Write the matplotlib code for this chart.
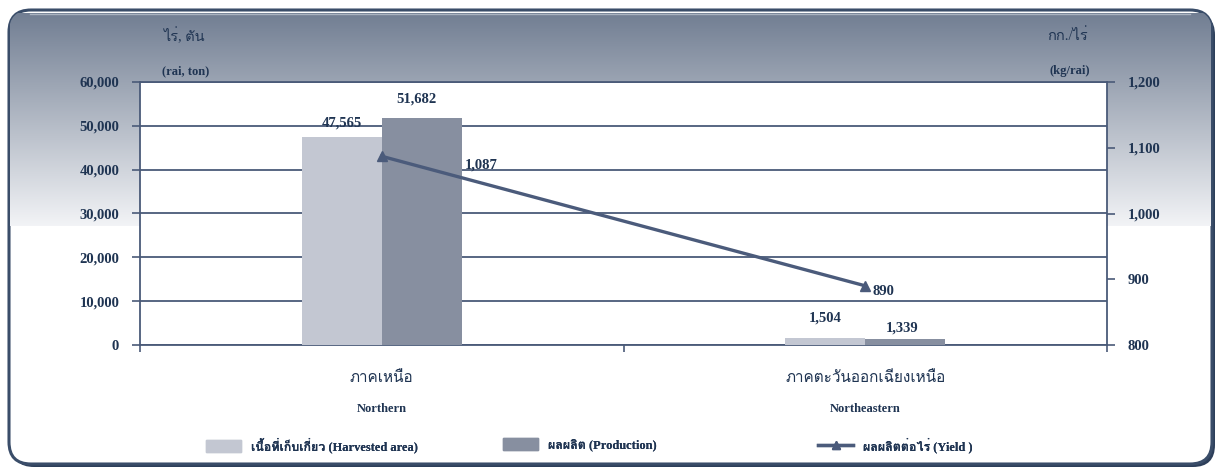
import numpy as np
import matplotlib
matplotlib.use("Agg")
import matplotlib.pyplot as plt
from matplotlib import font_manager, ft2font
from matplotlib.patches import FancyBboxPatch, Patch
from matplotlib.lines import Line2D

# data
regions_th = ["ภาคเหนือ", "ภาคตะวันออกเฉียงเหนือ"]
regions_en = ["Northern", "Northeastern"]
harvested = [47565, 1504]   # rai
production = [51682, 1339]  # ton
yield_kg = [1087, 890]      # kg/rai

left_ticks = [0, 10000, 20000, 30000, 40000, 50000, 60000]
right_ticks = [800, 900, 1000, 1100, 1200]


# look for a font that has Thai glyphs
def has_thai(path):
    try:
        return 0x0E01 in ft2font.FT2Font(path).get_charmap()
    except Exception:
        return False


thai = []
for f in font_manager.fontManager.ttflist:
    if f.name not in thai and has_thai(f.fname):
        thai.append(f.name)

FAM = ["Liberation Serif"] + thai[:1] + ["DejaVu Sans"]
plt.rcParams["font.family"] = FAM
plt.rcParams["font.weight"] = "bold"

NAVY = "#1f3452"
GRID = "#4a5a78"
C_HARV = "#c3c7d2"
C_PROD = "#878fa0"
C_LINE = "#4b5b7b"

W, H = 1223, 469
fig = plt.figure(figsize=(W / 100, H / 100), dpi=100)


def px(x, y):
    return x / W, 1 - y / H


# background frame with gradient header
bg = fig.add_axes([0, 0, 1, 1], zorder=0)
bg.set_xlim(0, W)
bg.set_ylim(H, 0)
bg.axis("off")
shadow = FancyBboxPatch((12, 13), 1203, 454, boxstyle="round,pad=0,rounding_size=22",
                        fc="#2d3f5a", ec="none")
bg.add_patch(shadow)
frame = FancyBboxPatch((9, 10), 1203, 454, boxstyle="round,pad=0,rounding_size=22",
                       fc="white", ec="#3a4d69", lw=2.2)
bg.add_patch(frame)
top = np.array([0.445, 0.495, 0.575])
bot = np.array([0.950, 0.955, 0.965])
t = np.linspace(0, 1, 200)[:, None, None]
grad = top + (bot - top) * t
im = bg.imshow(grad, extent=(10, 1211, 226, 13), aspect="auto", zorder=1)
im.set_clip_path(frame)
bg.plot([30, 1190], [14, 14], color="#a9b2c0", lw=1, zorder=2)

# main chart
ax = fig.add_axes([140 / W, 1 - 345 / H, 967 / W, 263 / H], zorder=2)
ax.set_facecolor("white")
x = np.arange(len(regions_th))
bw = 0.165
b1 = ax.bar(x - bw / 2, harvested, bw, color=C_HARV, zorder=3)
b2 = ax.bar(x + bw / 2, production, bw, color=C_PROD, zorder=3)
ax.set_xlim(-0.5, 1.5)
ax.set_ylim(0, 60000)
ax.set_yticks(left_ticks)
ax.set_yticklabels([f"{v:,}" for v in left_ticks])
ax.yaxis.grid(True, color=GRID, lw=1.3, zorder=1)
ax.set_axisbelow(True)
ax.set_xticks([-0.5, 0.5, 1.5])
ax.set_xticklabels([])
for s in ax.spines.values():
    s.set_color(GRID)
    s.set_linewidth(1.3)
ax.tick_params(axis="y", length=6, width=1.2, color=GRID, pad=9,
               labelsize=10.5, labelcolor=NAVY)
ax.tick_params(axis="x", length=5, width=1.2, color=GRID)

for bar, v, off in zip(b1, harvested, [(0, 13), (0, 20)]):
    ax.annotate(f"{v:,}", (bar.get_x() + bar.get_width() / 2, v),
                xytext=off, textcoords="offset pixels", ha="center", va="center",
                fontsize=10.5, color=NAVY)
for bar, v, off in zip(b2, production, [(-5, 19), (-3, 11)]):
    ax.annotate(f"{v:,}", (bar.get_x() + bar.get_width() / 2, v),
                xytext=off, textcoords="offset pixels", ha="center", va="center",
                fontsize=10.5, color=NAVY)

ax2 = ax.twinx()
ax2.set_zorder(3)
ax2.patch.set_visible(False)
ax2.plot(x, yield_kg, color=C_LINE, lw=2.4, marker="^", ms=7, zorder=4)
ax2.set_ylim(800, 1200)
ax2.set_yticks(right_ticks)
ax2.set_yticklabels([f"{v:,}" for v in right_ticks])
ax2.tick_params(axis="y", length=6, width=1.2, color=GRID, pad=9,
                labelsize=10.5, labelcolor=NAVY)
for s in ax2.spines.values():
    s.set_visible(False)
for xi, v, off in zip(x, yield_kg, [(83, -9), (7, -6)]):
    ax2.annotate(f"{v:,}", (xi, v), xytext=off, textcoords="offset pixels",
                 ha="left", va="center", fontsize=10.5, color=NAVY)

# category labels
for xi, th, en in zip(x, regions_th, regions_en):
    ax.annotate(th, (xi, 0), xytext=(0, -33), textcoords="offset pixels",
                ha="center", va="center", fontsize=11, fontweight="normal", color=NAVY)
    ax.annotate(en, (xi, 0), xytext=(0, -64), textcoords="offset pixels",
                ha="center", va="center", fontsize=9, color=NAVY)

# axis titles
fig.text(*px(185, 36), "ไร่, ตัน", ha="center", va="center", fontsize=10.5,
         fontweight="normal", color=NAVY)
fig.text(*px(186, 71), "(rai, ton)", ha="center", va="center", fontsize=9, color=NAVY)
fig.text(*px(1067, 36), "กก./ไร่", ha="center", va="center", fontsize=10.5,
         fontweight="normal", color=NAVY)
fig.text(*px(1070, 71), "(kg/rai)", ha="center", va="center", fontsize=9, color=NAVY)

# legend, one entry per block
entries = [
    (Patch(color=C_HARV), "เนื้อที่เก็บเกี่ยว (Harvested area)", 200),
    (Patch(color=C_PROD), "ผลผลิต (Production)", 497),
    (Line2D([], [], color=C_LINE, lw=2.4, marker="^", ms=6), "ผลผลิตต่อไร่ (Yield )", 812),
]
for h, lab, xl in entries:
    leg = fig.legend([h], [lab], loc="center left", bbox_to_anchor=px(xl, 445),
                     frameon=False, fontsize=9, handlelength=2.8, handleheight=1.1,
                     handletextpad=0.8, borderpad=0, labelcolor=NAVY)
    fig.add_artist(leg)

fig.savefig("out.png", dpi=100)
